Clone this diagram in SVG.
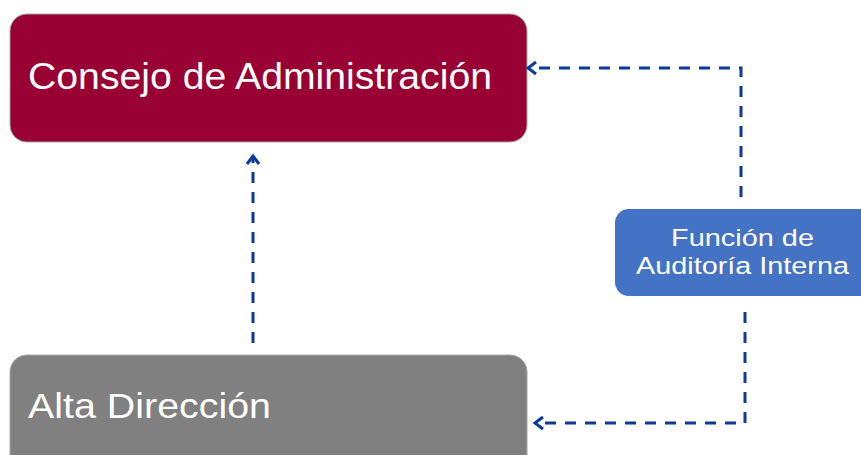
<svg xmlns="http://www.w3.org/2000/svg" width="861" height="455" viewBox="0 0 861 455">
<style>
.box{stroke:#a6a6a6;stroke-width:1}
.t{font-family:"Liberation Sans",Arial,sans-serif;fill:#ffffff}
.c{fill:none;stroke:#0b3a9c;stroke-width:3;stroke-dasharray:11 9}
</style>
<defs>
<marker id="ah" markerUnits="userSpaceOnUse" markerWidth="20" markerHeight="20" viewBox="-10 -10 20 20" refX="0" refY="0" orient="auto">
<path d="M-8,-6 L0,0 L-8,6" fill="none" stroke="#0b3a9c" stroke-width="3"/>
</marker>
</defs>
<g id="consejo">
<rect class="box" x="10" y="14" width="517" height="128" rx="17" fill="#990033"/>
<text class="t" x="28" y="89" font-size="36" textLength="464" lengthAdjust="spacingAndGlyphs">Consejo de Administración</text>
</g>
<g id="alta">
<rect class="box" x="10" y="355" width="517" height="120" rx="17" fill="#808080"/>
<text class="t" x="28" y="418" font-size="35" textLength="243" lengthAdjust="spacingAndGlyphs">Alta Dirección</text>
</g>
<g id="auditoria">
<rect x="615" y="209" width="260" height="87" rx="14" fill="#4472c4"/>
<text class="t" x="742.5" y="246" font-size="24.5" text-anchor="middle" textLength="143" lengthAdjust="spacingAndGlyphs">Función de</text>
<text class="t" x="742.5" y="274" font-size="24.5" text-anchor="middle" textLength="213" lengthAdjust="spacingAndGlyphs">Auditoría Interna</text>
</g>
<g id="connectors">
<path class="c" d="M253,343 L253,156" marker-end="url(#ah)"/>
<path class="c" d="M741,197 L741,68 L528,68" marker-end="url(#ah)"/>
<path class="c" d="M745,312 L745,423 L535,423" marker-end="url(#ah)"/>
</g>
</svg>
